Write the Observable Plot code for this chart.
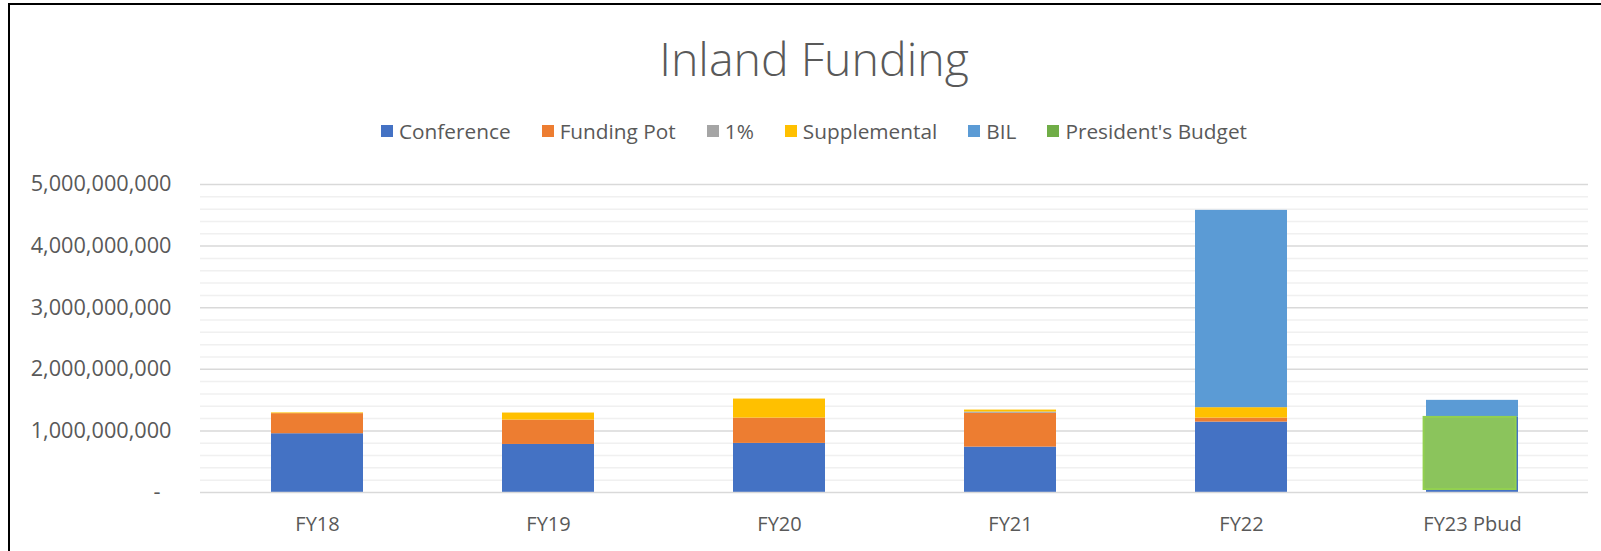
<!DOCTYPE html>
<html>
<head>
<meta charset="utf-8">
<script src="https://cdn.jsdelivr.net/npm/d3@7"></script>
<script src="https://cdn.jsdelivr.net/npm/@observablehq/plot@0.6"></script>
<style>
  html, body { margin: 0; padding: 0; background: #fff; }
  #wrap { position: relative; width: 1601px; height: 551px; overflow: hidden; background: #fff; font-family: "Open Sans", sans-serif; }
  #frame { position: absolute; left: 8px; top: 3px; width: 1620px; height: 600px; border-top: 2px solid #000; border-left: 2px solid #000; pointer-events: none; z-index: 3; }
  #title { position: absolute; left: 0; width: 1628px; top: 31px; text-align: center; font-size: 46.5px; font-weight: 300; color: #595959; line-height: 1.2; z-index: 2; }
  #legend { position: absolute; left: 0; width: 1628px; top: 116px; display: flex; justify-content: center; gap: 31px; font-size: 20.8px; color: #595959; z-index: 2; line-height: 30px; }
  .item { display: flex; align-items: center; }
  .sw { width: 12px; height: 12px; margin-right: 6px; }
  #chart { position: absolute; left: 0; top: 0; }
</style>
</head>
<body>
<div id="wrap">
  <div id="chart"></div>
  <div id="title">Inland Funding</div>
  <div id="legend"></div>
  <div id="frame"></div>
</div>
<script>
const years = ["FY18", "FY19", "FY20", "FY21", "FY22", "FY23 Pbud"];
const seriesNames = ["Conference", "Funding Pot", "1%", "Supplemental", "BIL", "President's Budget"];
const seriesColors = ["#4472C4", "#ED7D31", "#A5A5A5", "#FFC000", "#5B9BD5", "#70AD47"];

const conference       = [954e6, 780e6, 797e6, 737e6, 1143e6, 1220e6];
const fundingPot       = [326e6, 396e6, 411e6, 548e6, 65e6, 0];
const onePercent       = [0, 0, 0, 21e6, 0, 0];
const supplemental     = [12e6, 114e6, 309e6, 32e6, 169e6, 0];
const bil              = [0, 0, 0, 0, 3203e6, 276e6];
const presidentsBudget = [0, 0, 0, 0, 0, 1170e6];

const yTicks = [0, 1e9, 2e9, 3e9, 4e9, 5e9];
const yMinorTicks = [0.2e9, 0.4e9, 0.6e9, 0.8e9, 1.2e9, 1.4e9, 1.6e9, 1.8e9, 2.2e9, 2.4e9, 2.6e9, 2.8e9, 3.2e9, 3.4e9, 3.6e9, 3.8e9, 4.2e9, 4.4e9, 4.6e9, 4.8e9];

const stackSeries = [conference, fundingPot, onePercent, supplemental, bil];
const rows = [];
stackSeries.forEach((arr, s) => arr.forEach((v, i) => rows.push({year: years[i], series: seriesNames[s], value: v})));
const pbRows = presidentsBudget.map((v, i) => ({year: years[i], series: seriesNames[5], value: v})).filter(d => d.value > 0);

const chart = Plot.plot({
  width: 1601,
  height: 551,
  marginLeft: 200,
  marginRight: 13,
  marginTop: 184,
  marginBottom: 59,
  style: {fontFamily: "Open Sans", color: "#595959", background: "transparent", fontSize: "21px"},
  x: {domain: years, paddingInner: 0.602, paddingOuter: 0.301, label: null},
  y: {domain: [0, 5e9], label: null},
  color: {domain: seriesNames, range: seriesColors},
  marks: [
    Plot.ruleY(yMinorTicks, {stroke: "#F0F0F0", strokeWidth: 1.5}),
    Plot.ruleY(yTicks.filter(d => d > 0), {stroke: "#D9D9D9", strokeWidth: 1.5}),
    Plot.barY(rows, {x: "year", y: "value", fill: "series", order: seriesNames.slice(0, 5)}),
    Plot.barY(pbRows, {x: "year", y: "value", fill: "#8BC45C", stroke: "#92D050", strokeWidth: 2, dx: -2.4, dy: -3}),
    Plot.ruleY([0], {stroke: "#D9D9D9", strokeWidth: 1.5}),
    Plot.axisY({ticks: yTicks.filter(d => d > 0), tickFormat: d3.format(","), tickSize: 0, tickPadding: 29, fontSize: 21.7}),
    Plot.axisY({ticks: [0], tickFormat: () => "-", tickSize: 0, tickPadding: 40, fontSize: 21.7}),
    Plot.axisX({tickSize: 0, tickPadding: 24, fontSize: 20})
  ]
});
document.getElementById("chart").appendChild(chart);

const legend = document.getElementById("legend");
seriesNames.forEach((name, i) => {
  const item = document.createElement("div");
  item.className = "item";
  const sw = document.createElement("span");
  sw.className = "sw";
  sw.style.background = seriesColors[i];
  const label = document.createElement("span");
  label.textContent = name;
  item.appendChild(sw);
  item.appendChild(label);
  legend.appendChild(item);
});
</script>
</body>
</html>
